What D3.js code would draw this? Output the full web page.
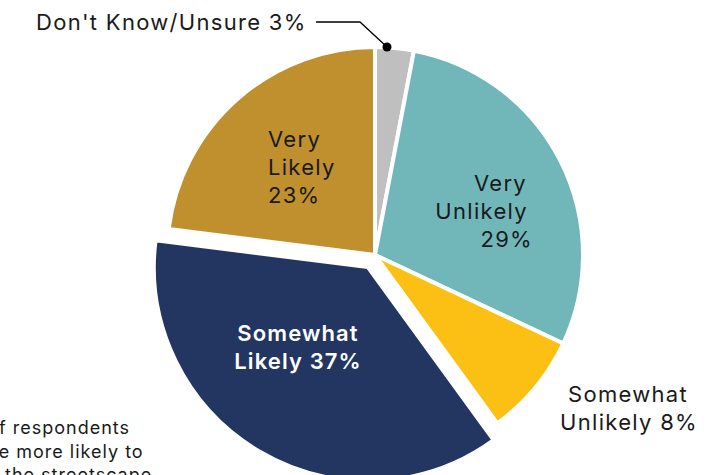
<!DOCTYPE html>
<html>
<head>
<meta charset="utf-8">
<script src="https://cdn.jsdelivr.net/npm/d3@7"></script>
<style>
  html, body { margin: 0; padding: 0; background: #fff; }
  svg { display: block; }
  text { font-family: "Inter", "Lato", "Open Sans", sans-serif; fill: #1a1a1a; }
</style>
</head>
<body>
<svg id="chart" width="728" height="475"></svg>
<script>
// Survey responses, clockwise from 12 o'clock
const categories = ["Don't Know/Unsure", "Very Unlikely", "Somewhat Unlikely", "Somewhat Likely", "Very Likely"];
const values = [3, 29, 8, 37, 23];
const sliceColors = ["#BFBFBF", "#71B7BA", "#FCBF14", "#223661", "#BF902D"];
const explodedCategory = "Somewhat Likely";

// Note text beside the pie
const noteLines = ["of respondents", "were more likely to", "visit the streetscape"];
const noteHidden = ["o", "wer", "visit "];

const W = 728, H = 475;
const svg = d3.select("#chart");
const cx = 375, cy = 255;
const R = 208;
const explodeDist = 14;
const explodeR = 214;

const data = categories.map((c, i) => ({ category: c, value: values[i], color: sliceColors[i] }));

const pie = d3.pie().sort(null).value(d => d.value).startAngle(0).endAngle(2 * Math.PI);
const arcs = pie(data);

const arcMain = d3.arc().innerRadius(0).outerRadius(R);
const arcBig = d3.arc().innerRadius(0).outerRadius(explodeR);

const g = svg.append("g").attr("transform", `translate(${cx},${cy})`);

g.selectAll("path.slice")
  .data(arcs)
  .join("path")
  .attr("class", "slice")
  .attr("d", d => d.data.category === explodedCategory ? arcBig(d) : arcMain(d))
  .attr("transform", d => {
    if (d.data.category !== explodedCategory) return null;
    const mid = (d.startAngle + d.endAngle) / 2;
    return `translate(${Math.sin(mid) * explodeDist},${-Math.cos(mid) * explodeDist})`;
  })
  .attr("fill", d => d.data.color)
  .attr("stroke", "#fff")
  .attr("stroke-width", 4)
  .attr("stroke-linejoin", "miter");

// Labels
const pct = i => `${values[i]}%`;
const labels = [
  { i: 0, anchor: "start", lines: [[`${categories[0]} ${pct(0)}`, 36, 30]] },
  { i: 1, anchor: "end", lines: [["Very", 527, 191], ["Unlikely", 528, 219], [pct(1), 533, 247]] },
  { i: 2, anchor: "middle", lines: [["Somewhat", 628, 402], ["Unlikely " + pct(2), 629, 430]] },
  { i: 3, anchor: "middle", white: true, lines: [["Somewhat", 298, 341], ["Likely " + pct(3), 298, 369]] },
  { i: 4, anchor: "start", lines: [["Very", 268, 147], ["Likely", 268, 175], [pct(4), 268, 203]] }
];

labels.forEach(L => {
  L.lines.forEach(([t, x, y]) => {
    svg.append("text")
      .attr("x", x).attr("y", y)
      .attr("text-anchor", L.anchor)
      .attr("font-size", 22)
      .attr("letter-spacing", L.white ? 1.1 : 1.3)
      .attr("font-weight", L.white ? 600 : 400)
      .style("fill", L.white ? "#fff" : "#1a1a1a")
      .text(t);
  });
});

// Leader line for the small slice
svg.append("path")
  .attr("d", d3.line()([[316, 22], [360, 22], [387, 47]]))
  .attr("fill", "none")
  .attr("stroke", "#000")
  .attr("stroke-width", 1.3);
svg.append("circle").attr("cx", 387).attr("cy", 47).attr("r", 4.5).attr("fill", "#000");

// Side note, partly running off the left edge
const noteX = [-1, -1, 5];
const noteY = [434, 458, 481];
noteLines.forEach((t, i) => {
  const probe = svg.append("text").attr("font-size", 18).attr("letter-spacing", 1)
    .attr("xml:space", "preserve").text(noteHidden[i]);
  const w = probe.node().getComputedTextLength();
  probe.remove();
  svg.append("text")
    .attr("x", noteX[i] - w).attr("y", noteY[i])
    .attr("font-size", 18)
    .attr("letter-spacing", 1)
    .text(t);
});
</script>
</body>
</html>
